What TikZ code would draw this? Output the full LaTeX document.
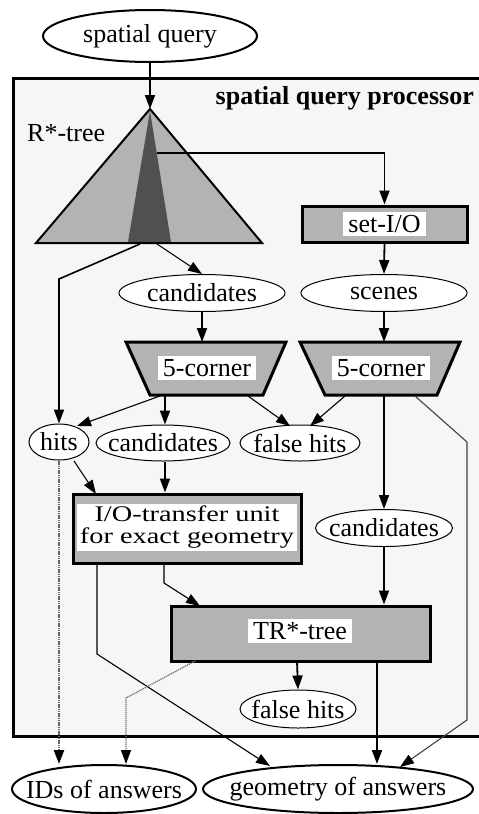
\documentclass[tikz,border=0pt]{standalone}
\usepackage{fontspec}
\setmainfont{Liberation Serif}
\usetikzlibrary{shapes.geometric,arrows.meta,calc}
\definecolor{bgc}{HTML}{F6F6F6}
\definecolor{midg}{HTML}{B3B3B3}
\definecolor{darkg}{HTML}{505050}
\begin{document}
\begin{tikzpicture}[x=1pt,y=-1pt,
  font=\fontsize{26}{30}\selectfont,
  tipstyle/.style={-{Triangle[length=14pt,width=10pt,color=black]}},
  arr/.style={tipstyle,line width=1.8pt},
  thinarr/.style={tipstyle,line width=1.1pt},
  hatcharr/.style={tipstyle,line width=2.4pt,draw=black!60,dash pattern=on 1.2pt off 0.6pt},
  dotarr/.style={tipstyle,line width=1.3pt,draw=black!55,dash pattern=on 1.2pt off 0.8pt},
  oval/.style={ellipse,draw,fill=white,line width=1pt,inner sep=0pt},
  bigoval/.style={oval,line width=2pt},
  gbox/.style={draw,fill=midg,line width=3pt,inner sep=0pt},
  wlabel/.style={fill=white,inner xsep=5pt,inner ysep=3pt},
  txt/.style={inner sep=0pt},
]
\useasboundingbox (0,0) rectangle (479,814);
\clip (0,0) rectangle (479,814);

% frame
\draw[line width=3pt, fill=bgc] (13,78) rectangle (495,736);
\node[txt, font=\fontsize{26}{30}\selectfont\bfseries, anchor=base east] (title) at (474,104) {spatial query processor};
\node[txt, anchor=base west] (rlab) at (27,141) {R*-tree};

% R*-tree triangle
\coordinate (apex) at (150,109);
\fill[midg] (apex) -- (36,243) -- (262,243) -- cycle;
\fill[darkg] (150,111) -- (128,242) -- (171,242) -- cycle;
\draw[line width=2pt, line join=miter] (apex) -- (36,243) -- (262,243) -- cycle;
\coordinate (wedge) at (157,153);
\coordinate (tb1) at (157,244);
\coordinate (tb2) at (140,244);
\coordinate (tbk) at (59,279);

% trapezoids
\draw[line width=3pt, fill=midg, line join=miter] (126,342) -- (286,342) -- (263,395) -- (150,395) -- cycle;
\draw[line width=3pt, fill=midg, line join=miter] (300,342) -- (460,342) -- (437,395) -- (325,395) -- cycle;
\node[wlabel] (fcL) at (207,368) {5-corner};
\node[wlabel] (fcR) at (381,368) {5-corner};
\coordinate (tL) at (202,342);
\coordinate (tR) at (384,342);
\coordinate (bL1) at (160,396);
\coordinate (bL2) at (165,396);
\coordinate (bL3) at (248,396);
\coordinate (bR1) at (345,396);
\coordinate (bR2) at (384,396);
\coordinate (bR3) at (415,396);

% boxes
\node[gbox, minimum width=165, minimum height=36] (setio) at (384.5,224) {};
\node[wlabel] at (setio) {set-I/O};
\node[gbox, minimum width=228, minimum height=69] (io) at (187,528.5) {};
\node[wlabel, inner xsep=3pt, inner ysep=2pt] at (187,527.5) {\scalebox{1.09}[0.86]{\fontsize{26}{24}\selectfont\begin{tabular}{@{}c@{}}I/O-transfer unit\\for exact geometry\end{tabular}}};
\node[gbox, minimum width=259, minimum height=55] (tr) at (300.5,633.5) {};
\node[wlabel] at (300,631) {TR*-tree};

% ovals
\node[bigoval, minimum width=214, minimum height=52] (sq) at (150,36) {};
\node[txt] at (sq) {spatial query};
\node[oval, minimum width=166, minimum height=37] (cand1) at (202,293) {};
\node[txt] at (cand1) {candidates};
\node[oval, minimum width=166, minimum height=37] (scenes) at (384,293) {};
\node[txt] at (scenes) {scenes};
\node[oval, minimum width=60, minimum height=36] (hits) at (59,442) {};
\node[txt] at (hits) {hits};
\node[oval, minimum width=134, minimum height=36] (cand2) at (163,443) {};
\node[txt] at (cand2) {candidates};
\node[oval, minimum width=120, minimum height=36] (fh1) at (300,443) {};
\node[txt] at (fh1) {false hits};
\node[oval, minimum width=137, minimum height=37] (cand3) at (384,528) {};
\node[txt] at (cand3) {candidates};
\node[oval, minimum width=116, minimum height=38] (fh2) at (298,709) {};
\node[txt] at (fh2) {false hits};
\node[bigoval, minimum width=184, minimum height=48] (ids) at (104,789) {};
\node[txt] at (ids) {IDs of answers};
\node[bigoval, minimum width=270, minimum height=48] (geom) at (338,789) {};
\node[txt] at (geom) {geometry of answers};

% end points on ovals
\coordinate (hitsIn) at (77,426);
\coordinate (fhIn1) at (290,426);
\coordinate (fhIn2) at (310,426);
\coordinate (hitsOut) at (74,461);
\coordinate (ioIn) at (96,494);
\coordinate (ioOut1) at (97,563);
\coordinate (ioK1) at (97,654);
\coordinate (ioOut2) at (164,563);
\coordinate (ioK2) at (164,583);
\coordinate (trIn) at (200,606);
\coordinate (trOut1) at (297,661);
\coordinate (trOut2) at (377,661);
\coordinate (trOut3) at (195,661);
\coordinate (trK) at (126,698);
\coordinate (rK1) at (467,442);
\coordinate (rK2) at (467,720);
\coordinate (gIn1) at (270,766);
\coordinate (gIn2) at (400,767);

% connectors
\draw[arr] (sq.south) -- (apex);
\draw[arr] (wedge) -| (setio.north);
\draw[arr] (setio.south) -- (scenes.north);
\draw[thinarr] (tb1) -- (cand1.north);
\draw[arr, line width=1.6pt] (tb2) -- (tbk) -- (hits.north);
\draw[arr] (cand1.south) -- (tL);
\draw[arr] (scenes.south) -- (tR);
\draw[thinarr] (bL1) -- (hitsIn);
\draw[arr] (bL2) -- (bL2 |- cand2.north);
\draw[thinarr] (bL3) -- (fhIn1);
\draw[thinarr] (bR1) -- (fhIn2);
\draw[arr] (bR2) -- (cand3.north);
\draw[thinarr, draw=black!75] (bR3) -- (rK1) -- (rK2) -- (gIn2);
\draw[hatcharr] (hits.south) -- (hits.south |- ids.north);
\draw[thinarr] (hitsOut) -- (ioIn);
\draw[arr] (bL2 |- cand2.south) -- (bL2 |- io.north);
\draw[thinarr] (ioOut1) -- (ioK1) -- (gIn1);
\draw[thinarr] (ioOut2) -- (ioK2) -- (trIn);
\draw[arr] (cand3.south) -- (cand3.south |- tr.north);
\draw[arr] (trOut1) -- (fh2.north);
\draw[arr] (trOut2) -- (trOut2 |- geom.north);
\draw[dotarr] (trOut3) -- (trK) -- (trK |- ids.north);
\end{tikzpicture}
\end{document}
